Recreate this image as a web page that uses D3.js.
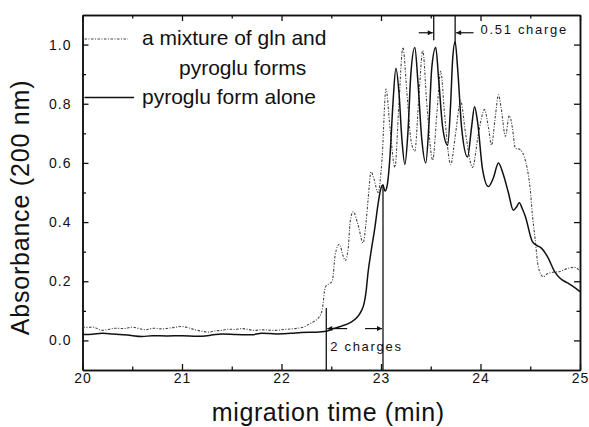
<!DOCTYPE html>
<html>
<head>
<meta charset="utf-8">
<script src="https://cdn.jsdelivr.net/npm/d3@7"></script>
<style>
  body { margin: 0; background: #fff; }
  svg { font-family: "Liberation Sans", Arial, Helvetica, sans-serif; }
</style>
</head>
<body>
<div id="chart"></div>
<script>
// pyroglu form alone (solid)
const pyroTime = [20.00, 20.10, 20.20, 20.30, 20.45, 20.60, 20.70, 20.85, 21.00, 21.15, 21.30, 21.40, 21.55, 21.70, 21.80, 21.95,
  22.10, 22.20, 22.35, 22.45, 22.52, 22.60, 22.69, 22.76, 22.80, 22.83, 22.85, 22.87, 22.90, 22.94, 22.97, 23.00,
  23.02, 23.04, 23.06, 23.09, 23.12, 23.15, 23.18, 23.21, 23.24, 23.27, 23.30, 23.34, 23.37, 23.41, 23.45, 23.48,
  23.51, 23.55, 23.58, 23.62, 23.67, 23.70, 23.72, 23.745, 23.77, 23.81, 23.87, 23.91, 23.94, 23.97, 24.02, 24.08,
  24.13, 24.18, 24.23, 24.28, 24.33, 24.36, 24.39, 24.42, 24.45, 24.52, 24.57, 24.60, 24.67, 24.75, 24.80, 24.87,
  24.93, 25.00];
const pyroAbs = [0.020, 0.021, 0.024, 0.022, 0.018, 0.013, 0.016, 0.015, 0.016, 0.014, 0.018, 0.022, 0.020, 0.019, 0.024, 0.022,
  0.024, 0.027, 0.028, 0.031, 0.040, 0.048, 0.060, 0.078, 0.098, 0.125, 0.165, 0.23, 0.30, 0.385, 0.46, 0.515,
  0.525, 0.505, 0.52, 0.62, 0.80, 0.92, 0.84, 0.68, 0.595, 0.70, 0.90, 0.99, 0.88, 0.68, 0.60, 0.72,
  0.92, 0.99, 0.88, 0.72, 0.66, 0.80, 0.95, 1.01, 0.92, 0.72, 0.62, 0.72, 0.79, 0.74, 0.58, 0.52,
  0.55, 0.60, 0.56, 0.50, 0.44, 0.45, 0.465, 0.445, 0.42, 0.335, 0.32, 0.315, 0.285, 0.23, 0.21, 0.195,
  0.183, 0.165];

// mixture of gln and pyroglu forms (dotted)
const mixTime = [20.00, 20.05, 20.10, 20.20, 20.27, 20.33, 20.42, 20.50, 20.57, 20.63, 20.72, 20.80, 20.90, 21.00, 21.07, 21.13,
  21.20, 21.27, 21.33, 21.40, 21.47, 21.53, 21.60, 21.73, 21.80, 21.93, 22.03, 22.13, 22.22, 22.27, 22.33, 22.38,
  22.41, 22.44, 22.47, 22.51, 22.54, 22.58, 22.62, 22.64, 22.67, 22.69, 22.72, 22.77, 22.82, 22.85, 22.87, 22.90,
  22.93, 22.97, 23.01, 23.05, 23.09, 23.14, 23.18, 23.22, 23.26, 23.30, 23.34, 23.38, 23.42, 23.46, 23.52, 23.56,
  23.60, 23.64, 23.70, 23.75, 23.80, 23.85, 23.92, 23.98, 24.04, 24.08, 24.11, 24.15, 24.18, 24.21, 24.25, 24.29,
  24.32, 24.35, 24.40, 24.44, 24.47, 24.50, 24.52, 24.55, 24.58, 24.63, 24.67, 24.72, 24.80, 24.87, 24.95, 25.00];
const mixAbs = [0.046, 0.044, 0.045, 0.034, 0.038, 0.041, 0.040, 0.045, 0.040, 0.036, 0.041, 0.039, 0.043, 0.047, 0.042, 0.036,
  0.031, 0.028, 0.032, 0.034, 0.038, 0.037, 0.040, 0.034, 0.036, 0.034, 0.037, 0.040, 0.045, 0.054, 0.065, 0.080,
  0.105, 0.18, 0.19, 0.20, 0.29, 0.325, 0.285, 0.27, 0.31, 0.40, 0.435, 0.39, 0.33, 0.40, 0.475, 0.57,
  0.545, 0.50, 0.61, 0.85, 0.72, 0.585, 0.80, 0.99, 0.84, 0.68, 0.64, 0.82, 0.98, 0.80, 0.61, 0.76,
  0.91, 0.76, 0.595, 0.70, 0.81, 0.70, 0.585, 0.70, 0.78, 0.72, 0.66, 0.76, 0.83, 0.78, 0.69, 0.76,
  0.72, 0.65, 0.645, 0.62, 0.58, 0.51, 0.43, 0.34, 0.25, 0.215, 0.225, 0.23, 0.233, 0.243, 0.247, 0.233];

const xMajor = [20, 21, 22, 23, 24, 25];
const xMinor = [20.5, 21.5, 22.5, 23.5, 24.5];
const yMajor = [0.0, 0.2, 0.4, 0.6, 0.8, 1.0];
const yMinor = [0.1, 0.3, 0.5, 0.7, 0.9];

// annotation markers (data units)
const markLines = [
  { t: 22.45, v0: 0.11, v1: -0.1 },
  { t: 23.02, v0: 0.527, v1: -0.1 },
  { t: 23.53, v0: 1.1, v1: 1.015 },
  { t: 23.745, v0: 1.1, v1: 1.0 }
];
const markArrows = [
  { t0: 22.66, t1: 22.46, v: 0.04 },
  { t0: 22.84, t1: 23.01, v: 0.04 },
  { t0: 23.38, t1: 23.52, v: 1.04 },
  { t0: 23.93, t1: 23.755, v: 1.04 }
];
const markLabels = [
  { t: 22.49, v: -0.036, text: "2 charges" },
  { t: 24.0, v: 1.035, text: "0.51 charge" }
];

const width = 589;
const height = 427;
const margin = { top: 15, right: 9, bottom: 57, left: 82.5 };

const svg = d3.select("#chart")
  .append("svg")
  .attr("width", width)
  .attr("height", height)
  .style("background", "#fff");

const x = d3.scaleLinear().domain([20, 25]).range([margin.left, width - margin.right]);
const y = d3.scaleLinear().domain([-0.1, 1.1]).range([height - margin.bottom, margin.top]);

svg.append("defs").append("marker")
  .attr("id", "head")
  .attr("viewBox", "0 0 10 10")
  .attr("refX", 10)
  .attr("refY", 5)
  .attr("markerWidth", 7)
  .attr("markerHeight", 5)
  .attr("markerUnits", "userSpaceOnUse")
  .attr("orient", "auto")
  .append("path")
  .attr("d", "M0,0L10,5L0,10Z")
  .attr("fill", "#111");

// axes: frame with inward ticks on all sides
function styleAxis(g) {
  g.select(".domain").attr("stroke", "#111").attr("stroke-width", 1.5);
  g.selectAll(".tick line").attr("stroke", "#111").attr("stroke-width", 1.3);
  g.selectAll(".tick text")
    .attr("fill", "#111")
    .attr("font-size", 14)
    .attr("letter-spacing", 1);
}

const yB = y.range()[0], yT = y.range()[1];
const xL = x.range()[0], xR = x.range()[1];

svg.append("g")
  .attr("transform", `translate(0,${yB})`)
  .call(d3.axisBottom(x).tickValues(xMajor).tickSize(-6).tickSizeOuter(0).tickPadding(3).tickFormat(d3.format("d")))
  .call(styleAxis);
svg.append("g")
  .attr("transform", `translate(0,${yB})`)
  .call(d3.axisBottom(x).tickValues(xMinor).tickSize(-3.5).tickSizeOuter(0).tickFormat(""))
  .call(styleAxis);
svg.append("g")
  .attr("transform", `translate(0,${yT})`)
  .call(d3.axisTop(x).tickValues(xMajor).tickSize(-6).tickSizeOuter(0).tickFormat(""))
  .call(styleAxis);
svg.append("g")
  .attr("transform", `translate(0,${yT})`)
  .call(d3.axisTop(x).tickValues(xMinor).tickSize(-3.5).tickSizeOuter(0).tickFormat(""))
  .call(styleAxis);

svg.append("g")
  .attr("transform", `translate(${xL},0)`)
  .call(d3.axisLeft(y).tickValues(yMajor).tickSize(-6).tickSizeOuter(0).tickPadding(11).tickFormat(d3.format(".1f")))
  .call(styleAxis);
svg.append("g")
  .attr("transform", `translate(${xL},0)`)
  .call(d3.axisLeft(y).tickValues(yMinor).tickSize(-3.5).tickSizeOuter(0).tickFormat(""))
  .call(styleAxis);
svg.append("g")
  .attr("transform", `translate(${xR},0)`)
  .call(d3.axisRight(y).tickValues(yMajor).tickSize(-6).tickSizeOuter(0).tickFormat(""))
  .call(styleAxis);
svg.append("g")
  .attr("transform", `translate(${xR},0)`)
  .call(d3.axisRight(y).tickValues(yMinor).tickSize(-3.5).tickSizeOuter(0).tickFormat(""))
  .call(styleAxis);

// traces
const line = d3.line()
  .x(d => x(d[0]))
  .y(d => y(d[1]))
  .curve(d3.curveMonotoneX);

const mixData = mixTime.map((t, i) => [t, mixAbs[i]]);
const pyroData = pyroTime.map((t, i) => [t, pyroAbs[i]]);

svg.append("path")
  .datum(mixData)
  .attr("d", line)
  .attr("fill", "none")
  .attr("stroke", "#444")
  .attr("stroke-width", 1.1)
  .attr("stroke-dasharray", "2.5,1.5,1,1.5");

svg.append("path")
  .datum(pyroData)
  .attr("d", line)
  .attr("fill", "none")
  .attr("stroke", "#111")
  .attr("stroke-width", 1.5);

// charge markers
svg.selectAll(".mark-line")
  .data(markLines)
  .join("line")
  .attr("class", "mark-line")
  .attr("x1", d => x(d.t))
  .attr("x2", d => x(d.t))
  .attr("y1", d => y(d.v0))
  .attr("y2", d => y(d.v1))
  .attr("stroke", "#111")
  .attr("stroke-width", 1.3);

svg.selectAll(".mark-arrow")
  .data(markArrows)
  .join("line")
  .attr("class", "mark-arrow")
  .attr("x1", d => x(d.t0))
  .attr("x2", d => x(d.t1))
  .attr("y1", d => y(d.v))
  .attr("y2", d => y(d.v))
  .attr("stroke", "#111")
  .attr("stroke-width", 1.2)
  .attr("marker-end", "url(#head)");

svg.selectAll(".mark-label")
  .data(markLabels)
  .join("text")
  .attr("class", "mark-label")
  .attr("x", d => x(d.t))
  .attr("y", d => y(d.v))
  .attr("font-size", 13)
  .attr("letter-spacing", 1.7)
  .attr("fill", "#111")
  .text(d => d.text);

// legend
const legend = svg.append("g");
legend.append("line")
  .attr("x1", xL + 2).attr("x2", 128)
  .attr("y1", 39).attr("y2", 39)
  .attr("stroke", "#444")
  .attr("stroke-width", 1.1)
  .attr("stroke-dasharray", "2.5,1.5,1,1.5");
legend.append("line")
  .attr("x1", xL + 2).attr("x2", 134)
  .attr("y1", 97.5).attr("y2", 97.5)
  .attr("stroke", "#111")
  .attr("stroke-width", 1.5);

legend.selectAll("text")
  .data([
    { x: 142, y: 45, s: "a mixture of gln and" },
    { x: 179, y: 75, s: "pyroglu forms" },
    { x: 142, y: 103.5, s: "pyroglu form alone" }
  ])
  .join("text")
  .attr("x", d => d.x)
  .attr("y", d => d.y)
  .attr("font-size", 21)
  .attr("fill", "#111")
  .text(d => d.s);

// axis titles
svg.append("text")
  .attr("x", (xL + xR) / 2 - 3)
  .attr("y", 421)
  .attr("text-anchor", "middle")
  .attr("font-size", 25)
  .attr("letter-spacing", 0.6)
  .attr("fill", "#111")
  .text("migration time (min)");

svg.append("text")
  .attr("transform", `translate(29,${(yB + yT) / 2 + 15}) rotate(-90)`)
  .attr("text-anchor", "middle")
  .attr("font-size", 25)
  .attr("letter-spacing", 0.8)
  .attr("fill", "#111")
  .text("Absorbance (200 nm)");
</script>
</body>
</html>
